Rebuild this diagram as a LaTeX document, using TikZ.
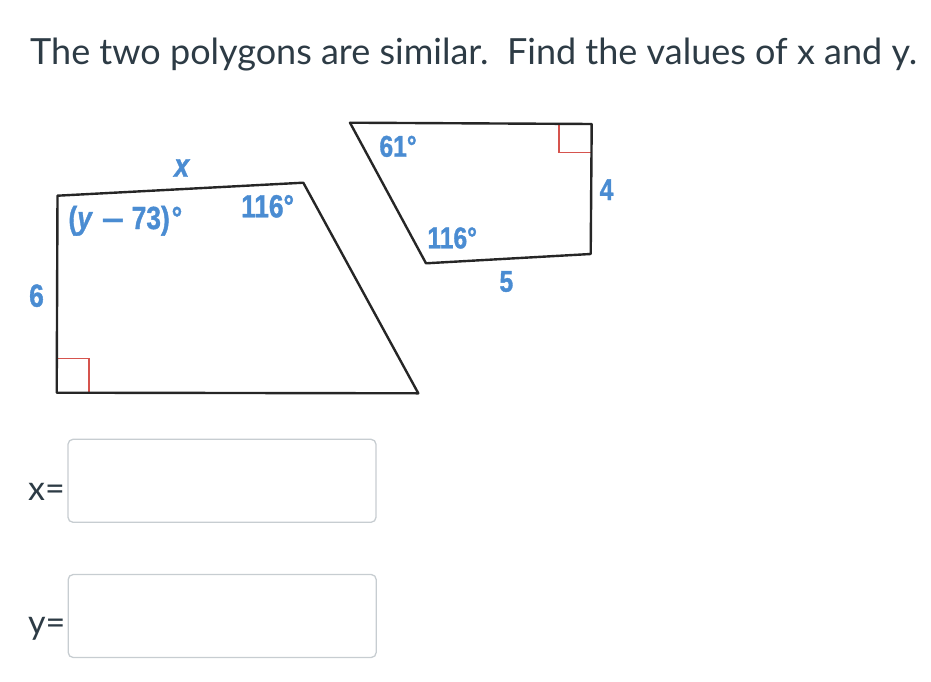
\documentclass[tikz,border=0pt]{standalone}
\usepackage{fontspec}
\setmainfont{Lato}
\newfontfamily\lblfont[FakeStretch=0.82, FakeBold=1.2, UprightFont={Liberation Sans Bold}, ItalicFont={Liberation Sans Bold Italic}]{Liberation Sans}
\usepackage{tikz}
\definecolor{textgray}{HTML}{2D3B45}
\definecolor{lblblue}{RGB}{74,140,210}
\definecolor{markred}{RGB}{214,84,78}
\definecolor{boxgray}{HTML}{C7CDD1}
\tikzset{
	side/.style={draw=black!85, line width=2.4pt, line join=round},
	rmark/.style={draw=markred, line width=1.5pt},
	lbl/.style={inner sep=0pt, text=lblblue, font=\lblfont\fontsize{32}{32}\selectfont},
	lbls/.style={lbl, font=\lblfont\fontsize{30}{30}\selectfont},
	question/.style={inner sep=0pt, text=textgray, font=\fontsize{36}{36}\selectfont},
	answer/.style={inner sep=0pt, text=textgray, font=\fontsize{34}{34}\selectfont},
	ansbox/.style={draw=boxgray, line width=1.3pt, rounded corners=5pt, minimum width=308pt, minimum height=83pt}
}

\begin{document}
\begin{tikzpicture}[x=1pt, y=-1pt]
	\useasboundingbox (0,0) rectangle (931,682);

	\node[question, anchor=base west]	(title)	at	(30,64.3)	{The two polygons are similar.\ \ Find the values of x and y.};

	% large polygon
	\coordinate	(A1)	at	(57.5,195.7);
	\coordinate	(B1)	at	(303.3,182.7);
	\coordinate	(C1)	at	(418.3,393.3);
	\coordinate	(D1)	at	(56.7,392.7);
	\draw[rmark] (57,358.5) -- (89,358.5) -- (89,392);
	\draw[side] (A1) -- (B1) -- (C1) -- (D1) -- cycle;

	\node[lbl, anchor=base, font=\lblfont\itshape\fontsize{33}{33}\selectfont]	(lx)	at	(181.7,176.7)	{x};
	\node[lbl, anchor=base west]	(ly)	at	(68.3,229)	{(\textit{y}\hspace{9pt}\scalebox{1.5}[1]{–}\hspace{8pt}73)\hspace{2pt}°};
	\node[lbl, anchor=base west]	(la)	at	(241,217.3)	{116°};
	\node[lbl, anchor=base west]	(l6)	at	(29,306.7)	{6};

	% small polygon
	\coordinate	(A2)	at	(350,122.7);
	\coordinate	(B2)	at	(591.7,124);
	\coordinate	(C2)	at	(590.7,254);
	\coordinate	(D2)	at	(426,263.3);
	\draw[rmark] (591,152.5) -- (559,152.5) -- (559,124.5);
	\draw[side] (A2) -- (B2) -- (C2) -- (D2) -- cycle;

	\node[lbls, anchor=base west]	(l61)	at	(379.3,156.7)	{61°};
	\node[lbls, anchor=base west]	(l4)	at	(599.5,200)	{4};
	\node[lbls, anchor=base west]	(lb)	at	(427.3,248.3)	{116°};
	\node[lbls, anchor=base west]	(l5)	at	(499.3,291.7)	{5};

	% answers
	\node[ansbox]	(bx)	at	(222,480.8)	{};
	\node[ansbox]	(by)	at	(222.2,616)	{};
	\node[answer, anchor=base west]	(tx)	at	(28,500.7)	{x=};
	\node[answer, anchor=base west]	(ty)	at	(28,634)	{y=};
\end{tikzpicture}
\end{document}
